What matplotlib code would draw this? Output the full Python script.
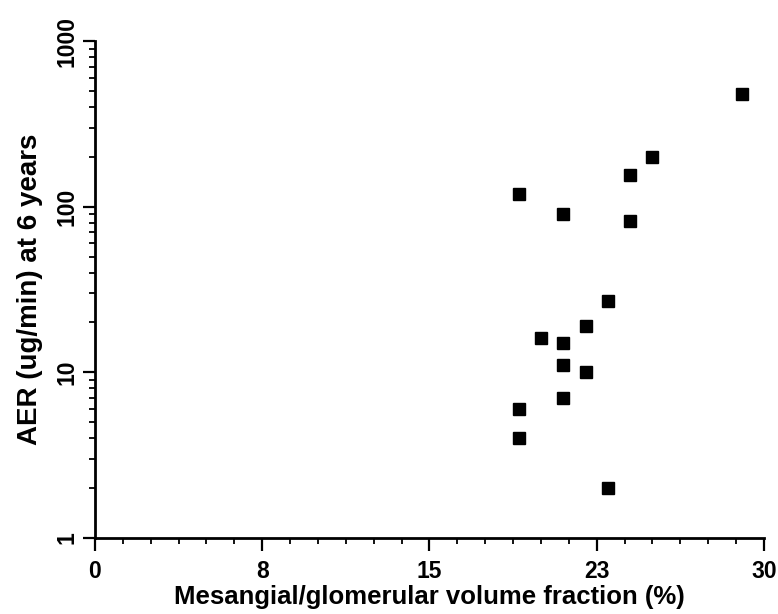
import numpy as np
import matplotlib.pyplot as plt
from matplotlib.ticker import FixedLocator, MultipleLocator, LogLocator, NullFormatter

# Mesangial/glomerular volume fraction (%) vs AER at 6 years
fraction = [29, 25, 24, 19, 21, 24, 23, 22, 20, 21, 21, 22, 21, 19, 19, 23]
aer = [480, 200, 156, 120, 90, 82, 27, 19, 16.2, 15, 11, 10, 7, 6, 4, 2]

x_ticks = [0, 7.5, 15, 22.5, 30]
x_tick_labels = ['0', '8', '15', '23', '30']
y_ticks = [1, 10, 100, 1000]
y_tick_labels = ['1', '10', '100', '1000']

plt.rcParams['font.family'] = ['Liberation Sans', 'DejaVu Sans']
plt.rcParams['font.weight'] = 'bold'

fig = plt.figure(figsize=(7.78, 6.14), dpi=100)
ax = fig.add_axes([0.1221, 0.1238, 0.8599, 0.8094])

ax.plot(fraction, aer, linestyle='none', marker='s', markersize=8.5,
        color='black', clip_on=False)

ax.set_yscale('log')
ax.set_xlim(0, 30)
ax.set_ylim(1, 1000)

ax.xaxis.set_major_locator(FixedLocator(x_ticks))
ax.set_xticklabels(x_tick_labels)
ax.xaxis.set_minor_locator(MultipleLocator(1.25))

ax.yaxis.set_major_locator(FixedLocator(y_ticks))
ax.set_yticklabels(y_tick_labels, rotation=90, va='center')
ax.yaxis.set_minor_locator(LogLocator(base=10, subs=np.arange(2, 10)))
ax.yaxis.set_minor_formatter(NullFormatter())

for side in ['top', 'right']:
    ax.spines[side].set_visible(False)
for side in ['left', 'bottom']:
    ax.spines[side].set_linewidth(2)

ax.tick_params(which='major', length=9, width=1.6, labelsize=16.5)
ax.tick_params(which='minor', length=4.5, width=1.3)
ax.tick_params(axis='x', which='major', pad=7)
ax.tick_params(axis='y', which='major', pad=3)

ax.set_xlabel('Mesangial/glomerular volume fraction (%)', fontsize=18.5,
              fontweight='bold', labelpad=1)
ax.set_ylabel('AER (ug/min) at 6 years', fontsize=20, fontweight='bold',
              labelpad=9)

fig.savefig('out.png', dpi=100)
